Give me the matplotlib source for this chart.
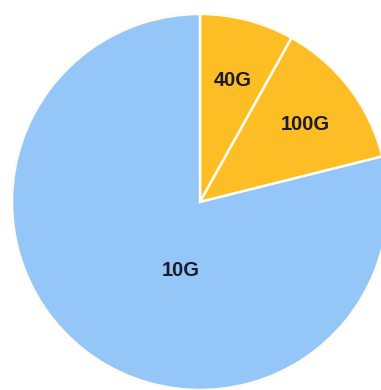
import matplotlib
matplotlib.use("Agg")
import matplotlib.pyplot as plt

categories = ["40G", "100G", "10G"]
shares = [8.1, 13.0, 78.9]
colors = ["#FDBD24", "#FDBD24", "#94C7F8"]
# label positions (in units of pie radius)
label_pos = [(0.175, 0.645), (0.56, 0.41), (-0.105, -0.367)]

fig = plt.figure(figsize=(3.81, 3.90), dpi=100)
ax = fig.add_axes([0, 0, 1, 1])
ax.pie(shares, colors=colors, startangle=90, counterclock=False,
       radius=1.0, wedgeprops=dict(edgecolor="#FFFBEF", linewidth=1.8))
for name, (x, y) in zip(categories, label_pos):
    ax.text(x, y, name, ha="center", va="center", fontsize=14.5,
            fontweight="bold", color="#1C1A2E", family="Liberation Sans")
ax.set_aspect("auto")
ax.set_xlim(-200 / 188, 181 / 188)
ax.set_ylim(-188 / 188, 202 / 188)
ax.axis("off")
fig.savefig("out.png", dpi=100)
